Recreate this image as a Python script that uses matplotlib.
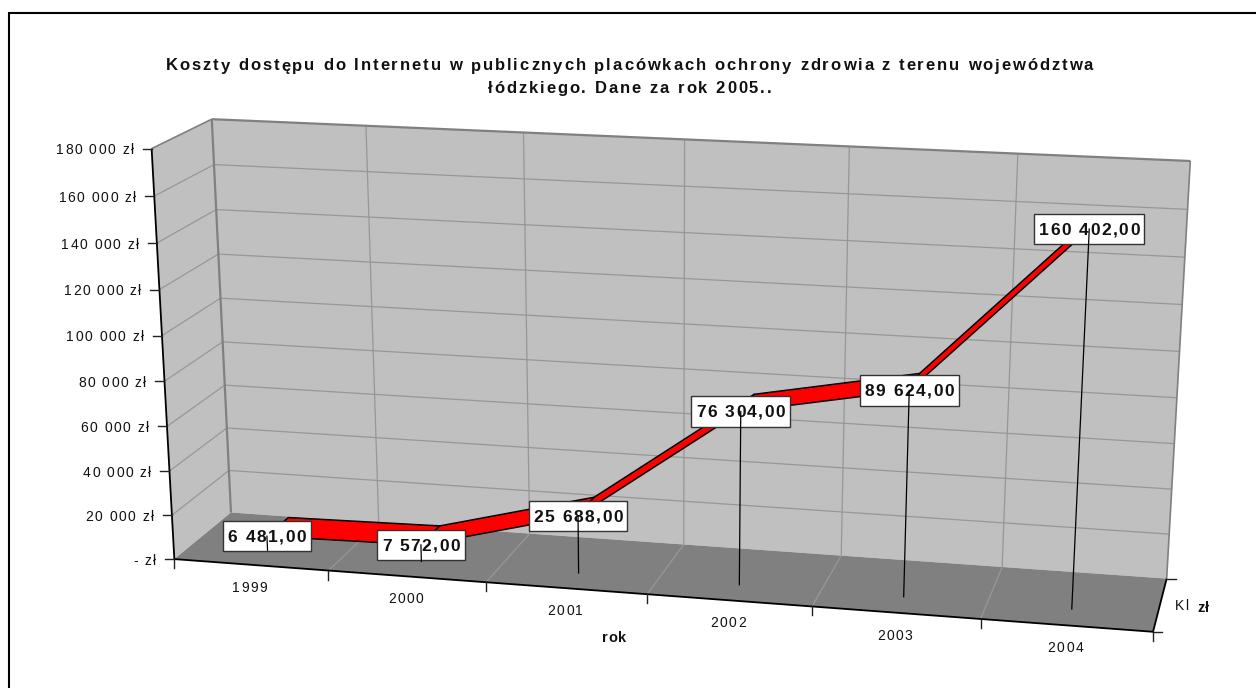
import numpy as np
import matplotlib
matplotlib.use('Agg')
import matplotlib.pyplot as plt
from matplotlib.patches import Polygon, Rectangle
from matplotlib.text import Text
from matplotlib.transforms import Bbox, IdentityTransform

years = ['1999', '2000', '2001', '2002', '2003', '2004']
costs = [6481, 7572, 25688, 76304, 89624, 160402]
y_ticks = [0, 20000, 40000, 60000, 80000, 100000, 120000, 140000, 160000, 180000]
y_tick_labels = ['- zł', '20 000 zł', '40 000 zł', '60 000 zł', '80 000 zł',
                 '100 000 zł', '120 000 zł', '140 000 zł', '160 000 zł', '180 000 zł']
title_lines = ['Koszty dostępu do Internetu w publicznych placówkach ochrony zdrowia z terenu województwa',
               'łódzkiego. Dane za rok 2005..']

Y_MAX = y_ticks[-1]
N = len(years)
FRONT_Z, BACK_Z = 0.3, 0.7

# box corners as (category, value, depth) -> pixel, used to fit the camera
corners = [((0, 0, 0), (174.3, 559.3)),
           ((0, Y_MAX, 0), (151.7, 148.5)),
           ((0, 0, 1), (231.0, 512.3)),
           ((0, Y_MAX, 1), (211.7, 119.3)),
           ((N, 0, 1), (1166.7, 578.7)),
           ((N, Y_MAX, 1), (1190.3, 161.0)),
           ((N, 0, 0), (1153.0, 631.7))]


def fit_camera(pairs):
    rows, rhs = [], []
    for (x, v, z), (u, w) in pairs:
        y = v / Y_MAX
        rows.append([x, y, z, 1, 0, 0, 0, 0, -u * x, -u * y, -u * z])
        rows.append([0, 0, 0, 0, x, y, z, 1, -w * x, -w * y, -w * z])
        rhs += [u, w]
    m = np.linalg.lstsq(np.array(rows, float), np.array(rhs, float), rcond=None)[0]
    return np.append(m, 1).reshape(3, 4)


CAM = fit_camera(corners)


def project(x, v, z):
    p = CAM @ np.array([x, v / Y_MAX, z, 1.0])
    return p[0] / p[2], p[1] / p[2]


def seg(ax, a, b, color='k', lw=1.0, zorder=2):
    pa, pb = project(*a), project(*b)
    ax.plot([pa[0], pb[0]], [pa[1], pb[1]], color=color, lw=lw, zorder=zorder,
            solid_capstyle='butt')


class TrackedText(Text):
    """Single-line text, baseline anchored, with extra pixels between letters."""

    def __init__(self, *args, tracking=0.0, **kwargs):
        super().__init__(*args, va='baseline', **kwargs)
        self.tracking = tracking

    def _advance(self, renderer, s):
        fp = self.get_fontproperties()
        measure = renderer.get_text_width_height_descent
        return measure(s + '|', fp, False)[0] - measure('|', fp, False)[0]

    def _extra(self):
        return self.tracking * (len(self.get_text()) - 1)

    def get_window_extent(self, renderer=None, dpi=None):
        bb = super().get_window_extent(renderer, dpi)
        shift = {'left': 0, 'center': 0.5, 'right': 1}[self.get_ha()] * self._extra()
        return Bbox.from_extents(bb.x0 - shift, bb.y0, bb.x1 + self._extra() - shift, bb.y1)

    def draw(self, renderer):
        if not self.get_visible():
            return
        s = self.get_text()
        x0, y0 = self.get_transform().transform(self.get_position())
        total = self._advance(renderer, s) + self._extra()
        start = x0 - {'left': 0, 'center': 0.5, 'right': 1}[self.get_ha()] * total
        for i, ch in enumerate(s):
            px = start + self._advance(renderer, s[:i]) + i * self.tracking
            glyph = Text(px, y0, ch, transform=IdentityTransform(), color=self.get_color(),
                         fontproperties=self.get_fontproperties(), ha='left', va='baseline')
            glyph.set_figure(self.get_figure())
            glyph.draw(renderer)


def label(ax, x, y, s, size=10, tracking=1.5, ha='center', weight='normal', zorder=5):
    t = TrackedText(x, y, s, tracking=tracking, ha=ha, fontsize=size, fontweight=weight,
                    color='#111111', zorder=zorder)
    ax.add_artist(t)
    return t


plt.rcParams['font.family'] = ['Liberation Sans', 'DejaVu Sans']
fig = plt.figure(figsize=(12.56, 6.88), dpi=100)
ax = fig.add_axes([0, 0, 1, 1])
ax.set_xlim(0, 1256)
ax.set_ylim(688, 0)
ax.axis('off')

# chart area border, only top and left fall inside the page
ax.plot([9.3, 9.3, 1256], [688, 13, 13], color='k', lw=1.5, zorder=1, solid_joinstyle='miter')

# walls and floor
wall = '#c0c0c0'
ax.add_patch(Polygon([project(0, 0, 0), project(0, Y_MAX, 0), project(0, Y_MAX, 1), project(0, 0, 1)],
                     fc=wall, ec='none', zorder=1))
ax.add_patch(Polygon([project(0, 0, 1), project(0, Y_MAX, 1), project(N, Y_MAX, 1), project(N, 0, 1)],
                     fc=wall, ec='none', zorder=1))
ax.add_patch(Polygon([project(0, 0, 0), project(0, 0, 1), project(N, 0, 1), project(N, 0, 0)],
                     fc='#808080', ec='none', zorder=1))

# gridlines
grid = '#979797'
for t in y_ticks[1:-1]:
    seg(ax, (0, t, 0), (0, t, 1), grid, 0.9)
    seg(ax, (0, t, 1), (N, t, 1), grid, 0.9)
for i in range(1, N):
    seg(ax, (i, 0, 1), (i, Y_MAX, 1), grid, 0.9)
    seg(ax, (i, 0, 0), (i, 0, 1), grid, 0.9)

# wall outlines
edge = '#808080'
seg(ax, (0, Y_MAX, 0), (0, Y_MAX, 1), edge, 1.2)
seg(ax, (0, 0, 1), (0, Y_MAX, 1), edge, 1.6)
seg(ax, (0, Y_MAX, 1), (N, Y_MAX, 1), edge, 1.6)
seg(ax, (N, 0, 1), (N, Y_MAX, 1), edge, 1.2)

# axes in front
seg(ax, (0, 0, 0), (0, Y_MAX, 0), 'k', 1.3, 3)
seg(ax, (0, 0, 0), (N, 0, 0), 'k', 1.3, 3)
seg(ax, (N, 0, 0), (N, 0, 1), 'k', 1.3, 3)

for t, lab in zip(y_ticks, y_tick_labels):
    px, py = project(0, t, 0)
    ax.plot([px - 9, px], [py, py], color='#222222', lw=1.0, zorder=3)
    label(ax, px - 18, py + 5.5, lab, ha='right')

for i in range(N + 1):
    px, py = project(i, 0, 0)
    ax.plot([px, px], [py, py + 9], color='#222222', lw=1.0, zorder=3)
for d in (0, 1):
    px, py = project(N, 0, d)
    ax.plot([px, px + 9], [py, py], color='#222222', lw=1.0, zorder=3)

for i, year in enumerate(years):
    px, py = project(i + 0.5, 0, 0)
    label(ax, px - 1, py + 27, year)

# ribbon, one quad per segment
for i in range(N - 1):
    quad = [project(i + 0.5, costs[i], FRONT_Z), project(i + 1.5, costs[i + 1], FRONT_Z),
            project(i + 1.5, costs[i + 1], BACK_Z), project(i + 0.5, costs[i], BACK_Z)]
    ax.add_patch(Polygon(quad, fc='#ff0000', ec='k', lw=1.1, joinstyle='round', zorder=4))

# value labels with leader lines from the floor
renderer = fig.canvas.get_renderer()
for i, v in enumerate(costs):
    bx, by = project(i + 0.5, 0, FRONT_Z)
    tx, ty = project(i + 0.5, v, FRONT_Z)
    text = f'{v:,.2f}'.replace(',', ' ').replace('.', ',')
    t = label(ax, tx, ty + 6, text, size=12.5, tracking=1.5, weight='bold', zorder=6)
    width = t._advance(renderer, text) + t._extra() + 9.5
    ax.add_patch(Rectangle((tx - width / 2, ty - 15), width, 30.3, fc='white', ec='#333333',
                           lw=1.0, zorder=5))
    ax.plot([bx, tx], [by, ty], color='k', lw=0.9, zorder=7)

label(ax, 629.5, 70.5, title_lines[0], size=12, tracking=1.95, weight='bold')
label(ax, 629.5, 93, title_lines[1], size=12, tracking=1.95, weight='bold')
label(ax, 614, 642, 'rok', size=10.5, tracking=1.0, weight='bold')
label(ax, 1181.5, 610, 'Kl', size=10, tracking=1.5)
label(ax, 1203, 612, 'zł', size=10.5, tracking=0.8, weight='bold')

fig.savefig('out.png', dpi=100)
